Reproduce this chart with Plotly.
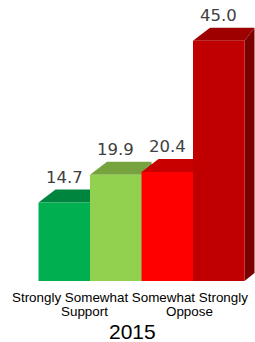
import plotly.graph_objects as go

# ---- data ----
categories = ["Strongly", "Somewhat", "Somewhat", "Strongly"]
groups = ["Support", "Oppose"]
year_label = "2015"
values = [14.7, 19.9, 20.4, 45.0]

# ---- style ----
front_colors = ["#00B050", "#92D050", "#FF0000", "#C00000"]
top_colors = ["#00853E", "#77A33F", "#C80000", "#9E0000"]
side_colors = ["#006B30", "#5E8A2E", "#A00000", "#7A0000"]

PX_X = 51.5   # pixels per bar width
PX_Y = 5.34   # pixels per value unit
dxl = 17 / PX_X
dxr = 10 / PX_X
dyt = 13 / PX_Y
dyb = 8 / PX_Y

fig = go.Figure()
for i, v in enumerate(values):
    l, r = i - 0.5, i + 0.5
    # side face
    fig.add_trace(go.Scatter(
        x=[r, r + dxr, r + dxr, r, r], y=[0, dyb, v + dyt, v, 0],
        fill="toself", fillcolor=side_colors[i], mode="lines",
        line=dict(width=0, color=side_colors[i]), hoverinfo="skip", showlegend=False))
    # top face
    fig.add_trace(go.Scatter(
        x=[l, l + dxl, r + dxr, r, l], y=[v, v + dyt, v + dyt, v, v],
        fill="toself", fillcolor=top_colors[i], mode="lines",
        line=dict(width=0, color=top_colors[i]), hoverinfo="skip", showlegend=False))
    # front face
    fig.add_trace(go.Scatter(
        x=[l, r, r, l, l], y=[0, 0, v, v, 0],
        fill="toself", fillcolor=front_colors[i], mode="lines",
        line=dict(width=0, color=front_colors[i]), hoverinfo="skip", showlegend=False))

annotations = []
for i, v in enumerate(values):
    annotations.append(dict(
        x=i, y=v + dyt, xref="x", yref="y", text=f"{v:.1f}", showarrow=False,
        yanchor="bottom", yshift=1,
        font=dict(family="DejaVu Sans", size=16.5, color="#404040")))

annotations.append(dict(
    x=130 / 255, y=-16 / 281, xref="paper", yref="paper", text=" ".join(categories),
    showarrow=False, xanchor="center", yanchor="middle",
    font=dict(family="Liberation Sans", size=13.4, color="#000000")))
for gx, g in zip([84, 189], groups):
    annotations.append(dict(
        x=gx / 255, y=-30 / 281, xref="paper", yref="paper", text=g,
        showarrow=False, xanchor="center", yanchor="middle",
        font=dict(family="Liberation Sans", size=13.4, color="#000000")))
annotations.append(dict(
    x=132.5 / 255, y=-50 / 281, xref="paper", yref="paper", text=year_label,
    showarrow=False, xanchor="center", yanchor="middle",
    font=dict(family="Liberation Sans", size=21, color="#000000")))

x0 = -0.5 - 38.5 / PX_X
x1 = 3.5 + 10.5 / PX_X
fig.update_layout(
    width=255, height=342,
    margin=dict(l=0, r=0, t=0, b=61),
    paper_bgcolor="white", plot_bgcolor="white",
    xaxis=dict(range=[x0, x1], visible=False, fixedrange=True),
    yaxis=dict(range=[0, 281 / PX_Y], visible=False, fixedrange=True),
    annotations=annotations,
    showlegend=False,
)
fig.write_html(
    "out.html",
    config={"displayModeBar": False},
    post_script="document.body.style.margin='0px';document.body.style.overflow='hidden';",
)
